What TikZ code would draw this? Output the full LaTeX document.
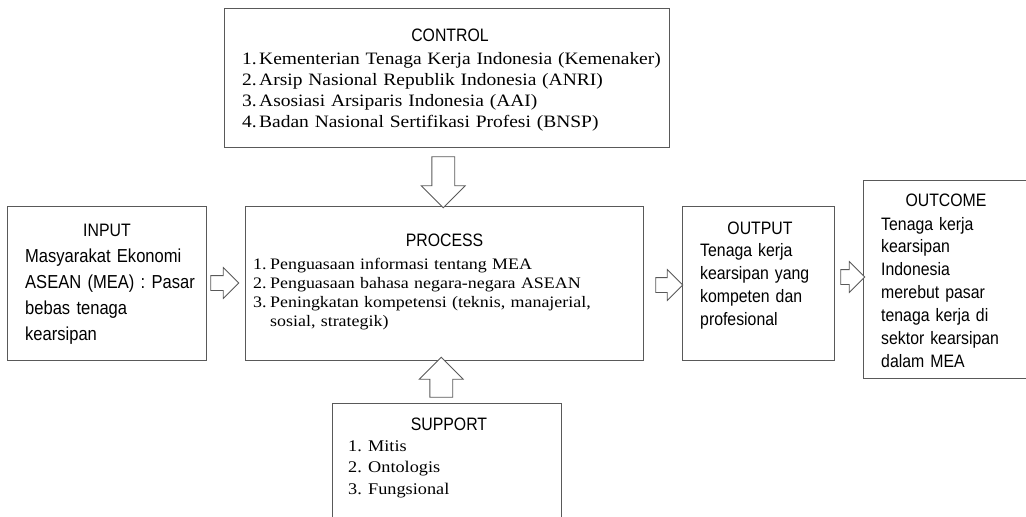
\documentclass[tikz,border=0pt]{standalone}
\usepackage{fontspec}
\setmainfont{Liberation Serif}[FakeStretch=1.12]
\setsansfont{Liberation Sans}[FakeStretch=0.88]
\usetikzlibrary{shapes.arrows,calc}
\newcommand{\nr}[2][17pt]{\makebox[#1][l]{#2}}
\tikzset{
  box/.style={draw=black!65,line width=0.9pt,inner sep=0pt},
  ttl/.style={font=\sffamily\fontsize{18}{22}\selectfont,anchor=base,inner sep=0pt},
  lst/.style={anchor=base west,align=left,inner sep=0pt},
  varr/.style={single arrow,draw=black!65,line width=0.8pt,fill=white,inner sep=0pt,
    text height=22pt,text depth=0pt,single arrow head extend=10.5pt,single arrow tip angle=90},
  harr/.style={single arrow,draw=black!65,line width=0.8pt,fill=white,inner sep=0pt,
    text height=14pt,text depth=0pt,single arrow head extend=8pt,single arrow tip angle=90}
}
\begin{document}
\begin{tikzpicture}[x=1pt,y=-1pt]
\useasboundingbox(0,0)rectangle(1026,517);
\clip(0,0)rectangle(1026,517);
% frames
\node[box,minimum width=445pt,minimum height=139pt](ctrl)at(446.5,77.5){};
\node[box,minimum width=199pt,minimum height=154pt](inp)at(106.5,283){};
\node[box,minimum width=398pt,minimum height=154pt](proc)at(444,283){};
\node[box,minimum width=152pt,minimum height=154pt](out)at(758,283){};
\node[box,minimum width=180pt,minimum height=198pt](outc)at(953,279){};
\node[box,minimum width=229pt,minimum height=137pt](sup)at(446.5,471.5){};
% titles
\node[ttl](ctrl-t)at(450,41){CONTROL};
\node[ttl](inp-t)at(107,236){INPUT};
\node[ttl](proc-t)at(444.5,246.7){PROCESS};
\node[ttl](out-t)at(760,234){OUTPUT};
\node[ttl](outc-t)at(946,206.7){OUTCOME};
\node[ttl](sup-t)at(449,430){SUPPORT};
% texts
\node[lst,text width=425pt,font=\fontsize{17.4}{21}\selectfont](ctrl-l)at(242,64){%
\nr{1.}Kementerian Tenaga Kerja Indonesia (Kemenaker)\\
\nr{2.}Arsip Nasional Republik Indonesia (ANRI)\\
\nr{3.}Asosiasi Arsiparis Indonesia (AAI)\\
\nr{4.}Badan Nasional Sertifikasi Profesi (BNSP)};
\node[lst,text width=185pt,font=\sffamily\fontsize{18.8}{25.8}\selectfont](inp-l)at(25,262.7){%
Masyarakat Ekonomi\\ASEAN (MEA) : Pasar\\bebas tenaga\\kearsipan};
\node[lst,text width=385pt,font=\fontsize{16}{19}\selectfont](proc-l)at(253,269.3){%
\nr{1.}Penguasaan informasi tentang MEA\\
\nr{2.}Penguasaan bahasa negara-negara ASEAN\\
\nr{3.}Peningkatan kompetensi (teknis, manajerial,\\
\nr{}sosial, strategik)};
\node[lst,text width=140pt,font=\sffamily\fontsize{18}{23}\selectfont](out-l)at(700,256.5){%
Tenaga kerja\\kearsipan yang\\kompeten dan\\profesional};
\node[lst,text width=160pt,font=\sffamily\fontsize{18}{22.9}\selectfont](outc-l)at(881,230){%
Tenaga kerja\\kearsipan\\Indonesia\\merebut pasar\\tenaga kerja di\\sektor kearsipan\\dalam MEA};
\node[lst,text width=200pt,font=\fontsize{16.3}{21.2}\selectfont](sup-l)at(348,451.7){%
\nr[20pt]{1.}Mitis\\\nr[20pt]{2.}Ontologis\\\nr[20pt]{3.}Fungsional};
% arrows
\node[varr,minimum height=51pt,rotate=-90](a1)at($(ctrl.south)!.5!(proc.north)+(-2,0)$){};
\node[varr,minimum height=40pt,rotate=90](a2)at($(proc.south)!.5!(sup.north)+(-4,1.5)$){};
\node[harr,minimum height=28pt](a3)at($(inp.east)!.5!(proc.west)+(-4.5,0)$){};
\node[harr,minimum height=27pt](a4)at($(proc.east)!.5!(out.west)+(3,2)$){};
\node[harr,minimum height=24pt](a5)at($(out.east)!.5!(outc.west)+(0.5,-4)$){};
\end{tikzpicture}
\end{document}
